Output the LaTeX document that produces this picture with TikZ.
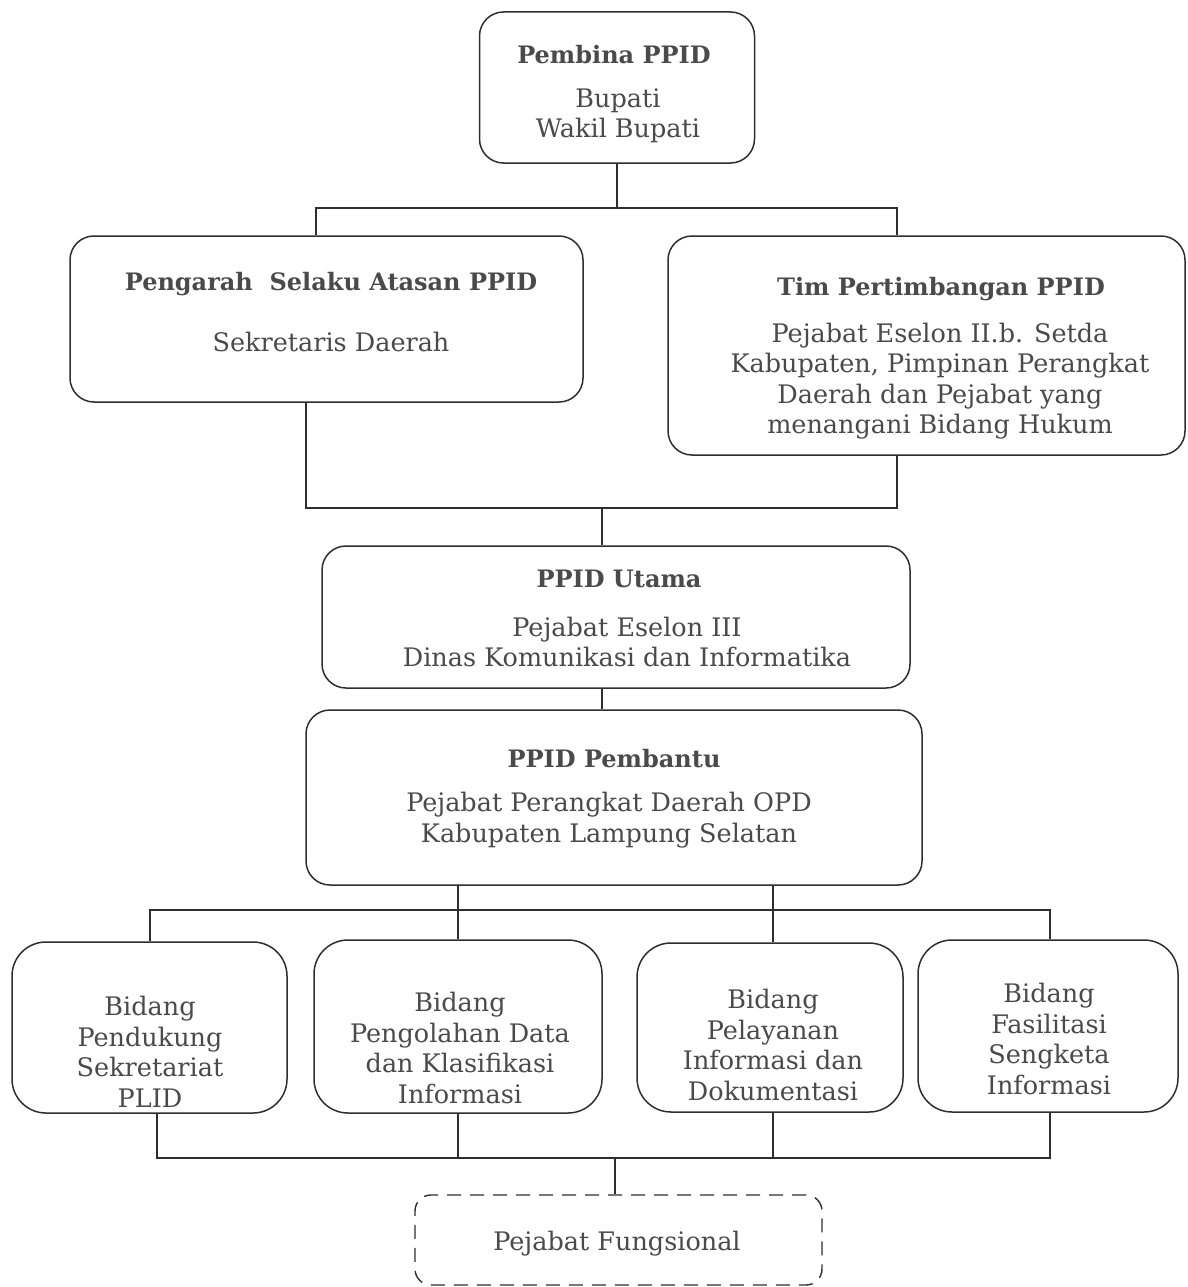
\documentclass[tikz,border=0pt]{standalone}
\usepackage{fontspec}
\setmainfont{DejaVu Serif}
\usetikzlibrary{calc}
\definecolor{ink}{HTML}{2E2E2E}
\definecolor{txt}{HTML}{4A4A4A}
\tikzset{
  box/.style={draw=ink, line width=1.5pt, rounded corners=24pt, inner sep=0pt},
  bidbox/.style={box, rounded corners=34pt},
  dashbox/.style={draw=ink, line width=1.4pt, dashed, dash pattern=on 14pt off 9pt, rounded corners=16pt, inner sep=0pt},
  conn/.style={draw=ink, line width=1.2pt},
  ttl/.style={text=txt, font=\fontsize{24}{30}\selectfont\bfseries, inner sep=0pt},
  body/.style={text=txt, font=\fontsize{25.5}{30.5}\selectfont, align=center, inner sep=0pt},
}
\begin{document}
\begin{tikzpicture}[x=1pt,y=-1pt]
\useasboundingbox (0,0) rectangle (1187,1287);

% boxes
\node[box, minimum width=275pt, minimum height=151pt] (pembina) at (617,87.5) {};
\node[box, minimum width=513pt, minimum height=166pt] (pengarah) at (326.5,319) {};
\node[box, minimum width=517pt, minimum height=219pt] (tim) at (926.5,345.5) {};
\node[box, minimum width=588pt, minimum height=142pt] (utama) at (616,617) {};
\node[box, minimum width=616pt, minimum height=175pt] (pembantu) at (614,797.5) {};
\node[bidbox, minimum width=275pt, minimum height=171pt] (b1) at (149.5,1027.5) {};
\node[bidbox, minimum width=288pt, minimum height=173pt] (b2) at (458,1026.5) {};
\node[bidbox, minimum width=266pt, minimum height=169pt] (b3) at (770,1027.5) {};
\node[bidbox, minimum width=260pt, minimum height=172pt] (b4) at (1048,1026) {};
\node[dashbox, minimum width=407pt, minimum height=90pt] (fung) at (618.5,1240) {};

% texts
\node[ttl] (t1) at (614,55) {Pembina PPID};
\node[body] (s1) at (618,116) {Bupati\\Wakil Bupati};
\node[ttl] (t2) at (331,284) {Pengarah\ \ Selaku Atasan PPID};
\node[body] (s2) at (331,342) {Sekretaris Daerah};
\node[ttl] (t3) at (941,289) {Tim Pertimbangan PPID};
\node[body] (s3) at (940,381) {Pejabat Eselon II.b. Setda\\Kabupaten, Pimpinan Perangkat\\Daerah dan Pejabat yang\\menangani Bidang Hukum};
\node[ttl] (t4) at (619,579) {PPID Utama};
\node[body] (s4) at (627,642) {Pejabat Eselon III\\Dinas Komunikasi dan Informatika};
\node[ttl] (t5) at (614,759) {PPID Pembantu};
\node[body] (s5) at (609,820) {Pejabat Perangkat Daerah OPD\\Kabupaten Lampung Selatan};
\node[body] (s6) at (150,1052) {Bidang\\Pendukung\\Sekretariat\\PLID};
\node[body] (s7) at (460,1048) {Bidang\\Pengolahan Data\\dan Klasifikasi\\Informasi};
\node[body] (s8) at (773,1045) {Bidang\\Pelayanan\\Informasi dan\\Dokumentasi};
\node[body] (s9) at (1049,1039) {Bidang\\Fasilitasi\\Sengketa\\Informasi};
\node[body] (s10) at (617,1244) {Pejabat Fungsional};

% connector junctions
\coordinate (j1L) at (316,208);
\coordinate (j1R) at (897,208);
\coordinate (j2L) at (306,508);
\coordinate (j2R) at (897,508);
\coordinate (j2M) at (602,508);
\coordinate (j3a) at (150,910);
\coordinate (j3b) at (458,910);
\coordinate (j3c) at (773,910);
\coordinate (j3d) at (1050,910);
\coordinate (j4a) at (157,1158);
\coordinate (j4b) at (458,1158);
\coordinate (j4c) at (773,1158);
\coordinate (j4d) at (1050,1158);
\coordinate (j4M) at (615,1158);

% connectors
\draw[conn] (pembina.south) -- (pembina.south |- j1L);
\draw[conn] (j1L |- pengarah.north) -- (j1L) -- (j1R) -- (j1R |- tim.north);
\draw[conn] (j2L |- pengarah.south) -- (j2L) -- (j2R) -- (j2R |- tim.south);
\draw[conn] (j2M) -- (j2M |- utama.north);
\draw[conn] (j2M |- utama.south) -- (j2M |- pembantu.north);
\draw[conn] (j3a |- b1.north) -- (j3a) -- (j3d) -- (j3d |- b4.north);
\draw[conn] (j3b |- pembantu.south) -- (j3b |- b2.north);
\draw[conn] (j3c |- pembantu.south) -- (j3c |- b3.north);
\draw[conn] (j4a |- b1.south) -- (j4a) -- (j4d) -- (j4d |- b4.south);
\draw[conn] (j4b |- b2.south) -- (j4b);
\draw[conn] (j4c |- b3.south) -- (j4c);
\draw[conn] (j4M) -- (j4M |- fung.north);
\end{tikzpicture}
\end{document}
